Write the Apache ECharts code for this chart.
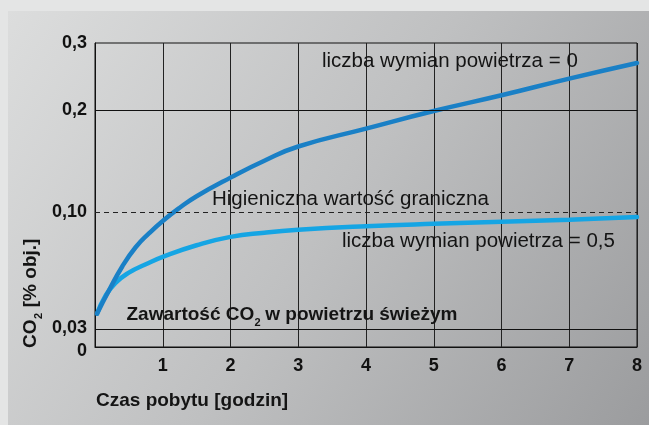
<!DOCTYPE html>
<html><head><meta charset="utf-8">
<script src="https://cdn.jsdelivr.net/npm/echarts@6/dist/echarts.min.js"></script>
<style>html,body{margin:0;padding:0;background:#e4e5e5}#c{width:649px;height:425px}</style>
</head><body><div id="c"></div>
<script>
// ---- data ----
const hoursRate0 = [0.03, 0.2, 0.4, 0.6, 0.8, 1.0, 1.25, 1.5, 2, 2.5, 3, 4, 5, 6, 7, 8];
const co2Rate0   = [0.0395, 0.0528, 0.0674, 0.0790, 0.0874, 0.0947, 0.1042, 0.1155, 0.1338, 0.1504, 0.1644, 0.1820, 0.1993, 0.2223, 0.2471, 0.2703];
const hoursRate05 = [0.03, 0.15, 0.3, 0.5, 0.75, 1, 1.5, 2, 2.5, 3, 4, 5, 6, 7, 8];
const co2Rate05   = [0.0395, 0.0498, 0.0577, 0.0639, 0.0689, 0.0733, 0.0802, 0.0852, 0.0877, 0.0894, 0.0915, 0.0930, 0.0942, 0.0954, 0.0970];
const xTicks = [1, 2, 3, 4, 5, 6, 7, 8];
const yTicks = [0, 0.03, 0.1, 0.2, 0.3];
const yTickLabels = ['0', '0,03', '0,10', '0,2', '0,3'];
const solidLevels = [0.03, 0.2];
const limitLevel = 0.1;
const labelRate0 = 'liczba wymian powietrza = 0';
const labelRate05 = 'liczba wymian powietrza = 0,5';
const labelLimit = 'Higieniczna wartość graniczna';
const labelFresh = ['Zawartość CO', '2', ' w powietrzu świeżym'];
const yName = ['CO', '2', ' [% obj.]'];
const xName = 'Czas pobytu [godzin]';

// ---- non-uniform vertical scale of the original chart (piecewise linear) ----
const scalePos = [0, 17.4, 135, 236.7, 304];
function toAxis(v) {
  for (let i = 0; i < yTicks.length - 1; i++) {
    if (v <= yTicks[i + 1] || i === yTicks.length - 2) {
      const t = (v - yTicks[i]) / (yTicks[i + 1] - yTicks[i]);
      return scalePos[i] + t * (scalePos[i + 1] - scalePos[i]);
    }
  }
}
function labelFor(a) {
  let best = 0;
  yTicks.forEach((t, i) => { if (Math.abs(toAxis(t) - a) < Math.abs(toAxis(yTicks[best]) - a)) best = i; });
  return best;
}

const FONT = 'Liberation Sans, Arial, Helvetica, sans-serif';
const chart = echarts.init(document.getElementById('c'), null, {renderer: 'canvas'});

const lines = solidLevels.map(v => ({yAxis: toAxis(v), lineStyle: {type: 'solid', color: '#111', width: 1}}));
lines.push({yAxis: toAxis(limitLevel), lineStyle: {type: [5, 4], color: '#222', width: 1}});

function txt(x, y, text, font, extra) {
  return Object.assign({type: 'text', z: 100, silent: true, x: x, y: y,
    style: {text: text, font: font, fill: '#141414', verticalAlign: 'middle', align: 'left'}}, extra || {});
}
const REG = 'normal 20.5px ' + FONT;
const BOLD = 'bold 19px ' + FONT;
const SUB = 'bold 11px ' + FONT;

chart.setOption({
  backgroundColor: '#e4e5e5',
  animation: false,
  grid: {left: 95, right: 12, top: 43, bottom: 78, show: true, borderColor: '#111', borderWidth: 1, backgroundColor: 'transparent'},
  xAxis: {
    type: 'value', min: 0, max: 8, interval: 1,
    axisLine: {show: true, lineStyle: {color: '#111', width: 1}},
    axisTick: {show: false},
    splitLine: {show: true, lineStyle: {color: '#222', width: 1}},
    axisLabel: {
      show: true, margin: 10, color: '#111', fontSize: 18, fontWeight: 'bold', fontFamily: FONT,
      showMinLabel: false,
      formatter: v => xTicks.indexOf(v) >= 0 ? String(v) : ''
    }
  },
  yAxis: {
    type: 'value', min: 0, max: toAxis(0.3),
    axisLine: {show: true, lineStyle: {color: '#111', width: 1}},
    axisTick: {show: false},
    splitLine: {show: false},
    axisLabel: {
      show: true, margin: 8, color: '#111', fontSize: 18, fontWeight: 'bold', fontFamily: FONT,
      customValues: yTicks.map(toAxis),
      formatter: a => {
        const i = labelFor(a);
        if (i === 0) return '{dn|' + yTickLabels[i] + '}';
        if (i === 1) return '{up|' + yTickLabels[i] + '}';
        return yTickLabels[i];
      },
      rich: {
        dn: {fontSize: 18, fontWeight: 'bold', fontFamily: FONT, color: '#111', padding: [8, 0, 0, 0]},
        up: {fontSize: 18, fontWeight: 'bold', fontFamily: FONT, color: '#111', padding: [0, 0, 3, 0]}
      }
    }
  },
  series: [
    {
      type: 'line', data: [], z: 1, silent: true,
      markLine: {silent: true, symbol: ['none', 'none'], label: {show: false}, data: lines, animation: false}
    },
    {
      name: labelRate05, type: 'line', z: 3, showSymbol: false, smooth: 0.5,
      lineStyle: {color: '#15a5e4', width: 4.5, cap: 'round'},
      data: hoursRate05.map((h, i) => [h, toAxis(co2Rate05[i])])
    },
    {
      name: labelRate0, type: 'line', z: 4, showSymbol: false, smooth: 0.5,
      lineStyle: {color: '#1a80c6', width: 4.5, cap: 'round'},
      data: hoursRate0.map((h, i) => [h, toAxis(co2Rate0[i])])
    }
  ],
  graphic: [
    {type: 'rect', z: -10, silent: true, shape: {x: 8, y: 11, width: 641, height: 414},
      style: {fill: new echarts.graphic.LinearGradient(0, 0, 1, 1, [
        {offset: 0, color: '#dcdddd'}, {offset: 0.5, color: '#bfc0c1'}, {offset: 1, color: '#9b9c9e'}])}},
    txt(322, 61.5, labelRate0, REG),
    txt(212, 199.6, labelLimit, REG),
    txt(342, 241.2, labelRate05, REG),
    txt(126.5, 315, labelFresh[0], BOLD),
    txt(254.5, 322.5, labelFresh[1], SUB),
    txt(260, 315, labelFresh[2], BOLD),
    txt(96, 400.5, xName, BOLD),
    txt(31, 348, yName[0], BOLD, {rotation: Math.PI / 2}),
    txt(38.5, 319, yName[1], SUB, {rotation: Math.PI / 2}),
    txt(31, 312.5, yName[2], BOLD, {rotation: Math.PI / 2})
  ]
});
</script>
</body></html>
